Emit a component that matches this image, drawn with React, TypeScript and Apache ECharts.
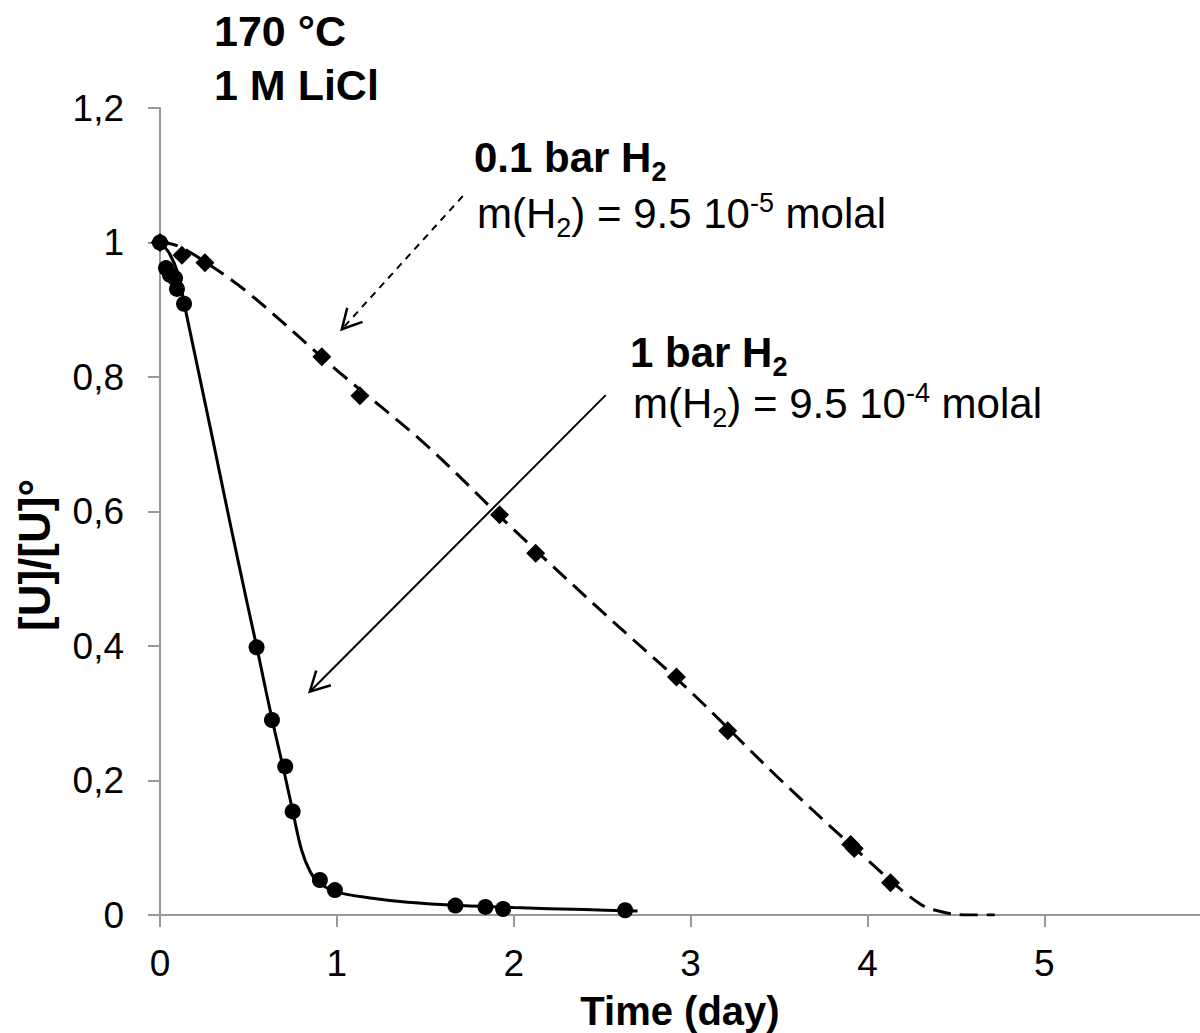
import React, { useEffect, useRef } from "react";
import * as echarts from "echarts";

const FONT = '"Liberation Sans", Arial, Helvetica, sans-serif';

// 1 bar H2 measured points (circles)
const circleX = [0, 0.034, 0.056, 0.085, 0.096, 0.136, 0.546, 0.633, 0.708, 0.75, 0.904, 0.989, 1.67, 1.84, 1.94, 2.63];
const circleY = [1.0, 0.962, 0.952, 0.947, 0.931, 0.909, 0.398, 0.29, 0.221, 0.154, 0.052, 0.037, 0.014, 0.012, 0.009, 0.007];

// 0.1 bar H2 measured points (diamonds)
const diamondX = [0, 0.124, 0.254, 0.915, 1.13, 1.92, 2.124, 2.92, 3.21, 3.905, 3.925, 4.13];
const diamondY = [1.0, 0.981, 0.97, 0.83, 0.772, 0.595, 0.538, 0.354, 0.274, 0.105, 0.099, 0.048];

// fitted curve, 1 bar H2 (solid)
const fit1X = [0, 0.05, 0.1, 0.14, 0.2, 0.3, 0.4, 0.5, 0.55, 0.6, 0.65, 0.7, 0.75, 0.8, 0.85, 0.9, 1.0, 1.2, 1.4, 1.7, 2.0, 2.4, 2.7];
const fit1Y = [1.0, 0.985, 0.955, 0.905, 0.83, 0.705, 0.578, 0.455, 0.395, 0.332, 0.272, 0.215, 0.155, 0.097, 0.064, 0.048, 0.034, 0.025, 0.019, 0.014, 0.011, 0.008, 0.006];

// fitted curve, 0.1 bar H2 (dashed)
const fit2X = [0, 0.1, 0.25, 0.5, 1.0, 1.5, 2.0, 2.5, 3.0, 3.5, 4.0, 4.3, 4.45, 4.55, 4.72];
const fit2Y = [1.0, 0.995, 0.972, 0.925, 0.81, 0.7, 0.573, 0.451, 0.332, 0.203, 0.082, 0.016, 0.003, 0.0, 0.0];

const xTicks = [0, 1, 2, 3, 4, 5];
const yTicks = [0, 0.2, 0.4, 0.6, 0.8, 1.0, 1.2];

const arrows = [
  { from: [1.712, 1.069], to: [1.028, 0.871], dashed: true },
  { from: [2.52, 0.773], to: [0.847, 0.332], dashed: false },
];

type Run = { t: string; size: number; bold?: boolean; dy?: number };

function zip(xs: number[], ys: number[]) {
  return xs.map((x, i) => [x, ys[i]]);
}

export default function App() {
  const ref = useRef<HTMLDivElement>(null);
  useEffect(() => {
    const chart = echarts.init(ref.current!, null, { renderer: "svg" });
    const axisColor = "#999999";
    chart.setOption({
      animation: false,
      backgroundColor: "#ffffff",
      grid: { left: 160, right: 0, top: 108, bottom: 118, containLabel: false },
      xAxis: {
        type: "value",
        min: 0,
        max: 5.88,
        interval: 1,
        axisLine: { show: true, onZero: false, lineStyle: { color: axisColor, width: 2 } },
        axisTick: { show: true, inside: false, length: 12, lineStyle: { color: axisColor, width: 2 } },
        axisLabel: {
          show: true,
          margin: 30,
          fontSize: 37,
          fontFamily: FONT,
          color: "#000",
          showMaxLabel: false,
          formatter: (v: number) => (xTicks.includes(Math.round(v * 100) / 100) ? String(v) : ""),
        },
        splitLine: { show: false },
      },
      yAxis: {
        type: "value",
        min: 0,
        max: 1.2,
        interval: 0.2,
        axisLine: { show: true, onZero: false, lineStyle: { color: axisColor, width: 2 } },
        axisTick: { show: true, inside: false, length: 12, lineStyle: { color: axisColor, width: 2 } },
        axisLabel: {
          show: true,
          margin: 36,
          fontSize: 37,
          fontFamily: FONT,
          color: "#000",
          formatter: (v: number) => {
            const r = Math.round(v * 10) / 10;
            return yTicks.some((t) => Math.abs(t - r) < 1e-6) ? String(r).replace(".", ",") : "";
          },
        },
        splitLine: { show: false },
      },
      series: [
        {
          type: "line",
          data: zip(fit1X, fit1Y),
          smooth: 0.35,
          showSymbol: false,
          symbol: "none",
          lineStyle: { color: "#000", width: 3 },
          z: 2,
        },
        {
          type: "line",
          data: zip(fit2X, fit2Y),
          smooth: 0.35,
          showSymbol: false,
          symbol: "none",
          lineStyle: { color: "#000", width: 3, type: [18, 9] },
          z: 2,
        },
        {
          type: "scatter",
          data: zip(circleX, circleY),
          symbol: "circle",
          symbolSize: 16,
          itemStyle: { color: "#000", opacity: 1 },
          z: 3,
        },
        {
          type: "scatter",
          data: zip(diamondX, diamondY),
          symbol: "diamond",
          symbolSize: 19,
          itemStyle: { color: "#000", opacity: 1 },
          z: 3,
        },
      ],
    });

    const canvas = document.createElement("canvas");
    const ctx = canvas.getContext("2d")!;
    const measure = (t: string, size: number, bold?: boolean) => {
      ctx.font = `${bold ? "bold " : ""}${size}px ${FONT}`;
      return ctx.measureText(t).width;
    };
    const runs = (x0: number, baseline: number, rs: Run[]) => {
      let x = x0;
      const out: any[] = [];
      for (const r of rs) {
        out.push({
          type: "text",
          x,
          y: baseline + (r.dy || 0) - 0.3465 * r.size,
          silent: true,
          style: {
            text: r.t,
            fontSize: r.size,
            fontWeight: r.bold ? "bold" : "normal",
            fontFamily: FONT,
            fill: "#000",
            align: "left",
            verticalAlign: "middle",
          },
        });
        x += measure(r.t, r.size, r.bold);
      }
      return out;
    };

    const A = 42; // annotation font size
    const S = 27; // sub/sup size
    const graphics: any[] = [];
    graphics.push(...runs(214, 46, [{ t: "170 °C", size: 43, bold: true }]));
    graphics.push(...runs(214, 100, [{ t: "1 M LiCl", size: 43, bold: true }]));

    graphics.push(
      ...runs(474, 172, [
        { t: "0.1 bar H", size: A, bold: true },
        { t: "2", size: S, bold: true, dy: 9 },
      ])
    );
    graphics.push(
      ...runs(477, 228, [
        { t: "m(H", size: A },
        { t: "2", size: S, dy: 9 },
        { t: ") = 9.5 10", size: A },
        { t: "-5", size: S, dy: -16 },
        { t: " molal", size: A },
      ])
    );
    graphics.push(
      ...runs(630, 367, [
        { t: "1 bar H", size: A, bold: true },
        { t: "2", size: S, bold: true, dy: 9 },
      ])
    );
    graphics.push(
      ...runs(633, 418, [
        { t: "m(H", size: A },
        { t: "2", size: S, dy: 9 },
        { t: ") = 9.5 10", size: A },
        { t: "-4", size: S, dy: -16 },
        { t: " molal", size: A },
      ])
    );

    // axis names
    graphics.push({
      type: "text",
      x: 680,
      y: 1025 - 0.3465 * 40,
      silent: true,
      style: { text: "Time (day)", fontSize: 40, fontWeight: "bold", fontFamily: FONT, fill: "#000", align: "center", verticalAlign: "middle" },
    });
    graphics.push({
      type: "text",
      x: 34,
      y: 555,
      rotation: Math.PI / 2,
      silent: true,
      style: { text: "[U]/[U]°", fontSize: 44, fontWeight: "bold", fontFamily: FONT, fill: "#000", align: "center", verticalAlign: "middle" },
    });

    // arrows
    for (const a of arrows) {
      const p0 = chart.convertToPixel({ gridIndex: 0 }, a.from) as number[];
      const p1 = chart.convertToPixel({ gridIndex: 0 }, a.to) as number[];
      const dx = p1[0] - p0[0];
      const dy = p1[1] - p0[1];
      const len = Math.sqrt(dx * dx + dy * dy);
      const ux = dx / len;
      const uy = dy / len;
      const head = 22;
      const ang = (28 * Math.PI) / 180;
      const cos = Math.cos(ang);
      const sin = Math.sin(ang);
      const b1 = [p1[0] - head * (ux * cos - uy * sin), p1[1] - head * (uy * cos + ux * sin)];
      const b2 = [p1[0] - head * (ux * cos + uy * sin), p1[1] - head * (uy * cos - ux * sin)];
      graphics.push({
        type: "line",
        silent: true,
        shape: { x1: p0[0], y1: p0[1], x2: p1[0], y2: p1[1] },
        style: { stroke: "#000", lineWidth: 2, lineDash: a.dashed ? [7, 6] : null },
      });
      graphics.push({
        type: "polyline",
        silent: true,
        shape: { points: [b1, p1, b2] },
        style: { stroke: "#000", lineWidth: 2.5, fill: null },
      });
    }

    chart.setOption({ graphic: graphics });
    return () => chart.dispose();
  }, []);
  return <div ref={ref} style={{ position: "fixed", left: 0, top: 0, width: 1200, height: 1033 }} />;
}
